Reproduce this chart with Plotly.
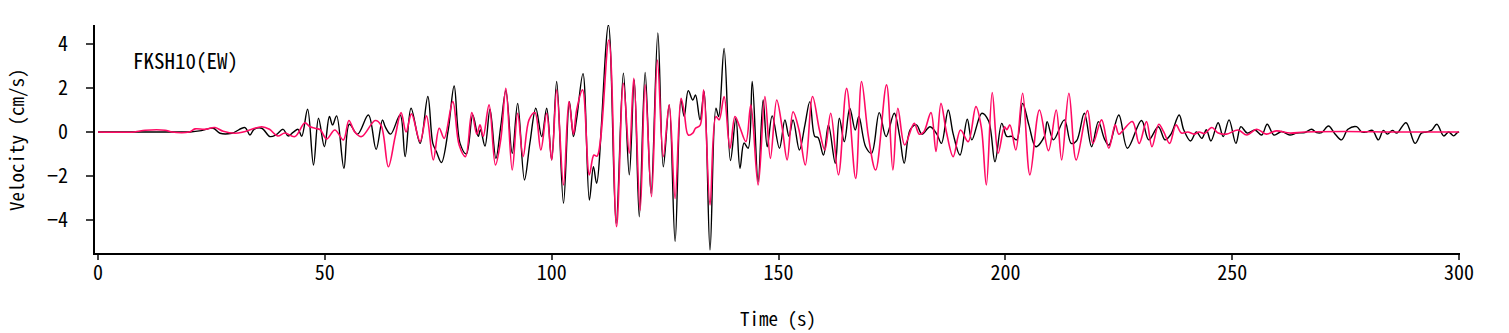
import plotly.graph_objects as go

# ---- data (time in s, velocity in cm/s) ----
black_t = [0, 10, 18, 20.3, 22.8, 25.4, 26.9, 29.5, 32.4, 33.5, 34.4, 36.1, 37.9, 39.3, 40.8, 41.9, 43.0,
           44.1, 44.9, 46.2, 47.5, 48.6, 49.9, 51.0, 51.7, 52.6, 54.2, 55.4, 57.2, 59.6, 61.3, 62.7, 63.3,
           64.5, 66.6, 67.7, 69.0, 71.0, 72.7, 73.8, 74.6, 75.7, 77.2, 78.5, 79.8, 81.2, 82.6, 83.8, 84.3,
           85.3, 86.4, 87.7, 88.8, 89.9, 91.3, 92.5, 94.0, 95.2, 96.5, 97.8, 98.9, 100.0, 101.1, 102.6,
           103.9, 104.8, 105.5, 106.9, 108.3, 109.2, 109.9, 112.5, 114.2, 115.8, 117.1, 118.2, 119.3, 120.6,
           121.9, 123.4, 124.6, 125.9, 127.2, 128.5, 129.2, 130.1, 131.1, 131.7, 132.7, 133.6, 134.9, 136.2,
           136.8, 138.0, 139.4, 140.6, 141.5, 142.4, 143.3, 144.2, 145.5, 146.6, 147.5, 148.6, 150.2, 151.4,
           152.3, 153.2, 154.6, 155.8, 156.9, 158.0, 158.7, 159.9, 161.0, 162.5, 163.4, 164.5, 165.7, 166.9,
           167.7, 169.2, 170.5, 172.2, 173.7, 175.5, 176.7, 177.7, 179.0, 180.4, 181.6, 183.4, 184.9, 185.9,
           187.4, 188.5, 190.0, 191.6, 192.6, 194.8, 196.3, 197.7, 199.2, 200.3, 201.4, 202.5, 203.8, 205.2,
           206.7, 208.6, 209.2, 210.6, 213.0, 214.5, 215.7, 217.4, 219.0, 220.5, 221.8, 222.8, 225.0, 226.9,
           230.0, 231.6, 233.7, 235.2, 236.5, 238.3, 239.3, 240.8, 242.1, 243.3, 244.3, 245.3, 246.9, 248.0,
           249.3, 250.8, 251.9, 253.3, 255.0, 256.5, 257.7, 259.2, 260.9, 262.7, 264.2, 266.0, 267.5, 268.6,
           269.7, 271.2, 272.7, 274.1, 275.5, 277.4, 278.5, 279.6, 280.9, 282.2, 283.3, 284.2, 285.3, 286.3,
           288.3, 290.3, 291.7, 292.8, 293.9, 295.1, 296.6, 297.7, 298.8, 299.6, 300]
black_v = [0, 0, 0, 0, 0.06, 0.17, -0.06, -0.06, 0.2, -0.14, 0.12, 0.17, -0.21, -0.12, 0.12, -0.18, -0.02,
           0.12, -0.2, 1.03, -1.5, 0.62, -0.67, 0.7, 0.32, 0.73, -1.65, 0.35, -0.1, 0.77, -0.79, 0.55, 0.24,
           -0.1, 0.77, -1.12, 1.08, -0.52, 1.61, -0.52, -0.9, -1.39, 0.09, 2.09, -0.52, -1.0, 0.77, -0.2, 0.1,
           -0.64, 1.03, -1.2, 0.3, 1.88, -0.97, 1.3, -2.18, -0.5, 1.08, -0.21, 1.08, -1.27, 2.29, -3.24,
           1.38, -0.21, 0.6, 2.65, -3.09, -1.58, -2.33, 4.86, -4.15, 2.67, -1.95, 2.36, -3.85, 2.7,
           -2.79, 4.5, -1.58, 1.23, -4.98, 1.45, 0.7, 1.88, 1.45, 1.68, 0.55, 1.83, -5.36, 1.08,
           0.7, 3.8, -1.3, 0.62, -1.65, -0.5, -0.74, 2.29, -2.26, 1.45, -0.67, 0.73, -0.74, 0.55,
           -0.2, 0.55, -0.82, 0.3, 1.38, -0.21, -0.25, -1.05, 0.32, -1.42, 0.62, -0.44, 1.08, 0.09,
           0.7, -0.67, -0.97, 0.88, -0.21, 0.85, -0.2, -1.42, 0.1, 0.32, -0.1, 0.24, -0.1, -0.52,
           1.0, -0.1, -1.05, 0.58, -0.36, 0.85, 0.5, -1.35, 0.39, -0.2, -0.2, -0.36, 1.3, 0.3,
           -0.67, -0.2, 0.47, -0.36, 0.55, -0.52, -0.4, 0.85, -0.67, 0.47, -0.3, -0.6, 0.77, -0.74,
           0.52, -0.36, 0.24, -0.36, -0.1, 0.77, 0.1, -0.41, 0, -0.29, 0.1, -0.41, 0.42, -0.21,
           0.55, -0.52, 0.24, -0.05, 0.09, -0.14, 0.35, -0.14, 0.02, -0.14, -0.05, -0.03, 0.12, -0.03,
           -0.03, 0.27, -0.1, -0.36, 0.12, 0.24, 0, 0, 0.07, -0.36, 0.07, -0.1, 0.07, -0.05,
           0.42, -0.52, -0.05, 0, 0.07, 0.35, -0.18, 0, -0.18, -0.03, 0]

red_t = [0, 8, 10.4, 14.8, 16.2, 20.1, 21.4, 23.5, 25.8, 27.6, 30.2, 32.0, 33.9, 36.1, 37.8, 39.6, 41.2,
         43.4, 45.6, 46.6, 47.8, 49.0, 50.4, 52.2, 54.1, 55.3, 56.6, 58.1, 61.1, 62.4, 64.0, 65.5, 66.8,
         67.9, 69.1, 71.0, 72.4, 73.9, 75.2, 76.3, 78.2, 79.6, 81.0, 82.4, 83.5, 84.2, 84.9, 86.2, 87.6,
         88.8, 89.9, 91.3, 92.5, 93.7, 95.0, 96.3, 97.6, 98.9, 100.0, 101.1, 102.6, 103.8, 104.8, 105.5,
         106.8, 108.3, 109.3, 110.0, 112.6, 114.3, 115.8, 117.1, 118.1, 119.5, 120.6, 122.0, 123.3, 124.6,
         125.9, 127.2, 128.5, 129.2, 130.1, 131.1, 131.7, 132.7, 133.5, 134.9, 136.2, 136.9, 138.0, 139.3,
         140.4, 141.4, 142.8, 143.9, 145.5, 147.0, 148.2, 149.6, 150.8, 151.9, 153.2, 154.5, 155.9, 157.5,
         159.0, 160.2, 161.5, 163.2, 165.0, 167.0, 168.3, 169.8, 171.4, 173.8, 175.2, 176.3, 177.8, 179.9,
         181.0, 182.0, 183.6, 184.7, 185.8, 187.0, 188.5, 190.1, 191.8, 193.5, 194.7, 195.8, 197.1, 198.4,
         199.8, 200.3, 201.0, 202.3, 203.8, 205.4, 207.5, 209.5, 211.2, 212.4, 214.0, 215.6, 218.1, 219.3,
         221.2, 222.8, 224.2, 225.0, 226.0, 228.0, 229.5, 231.1, 232.3, 233.8, 234.9, 236.2, 237.6, 238.8,
         240.2, 241.6, 242.7, 243.9, 245.5, 246.9, 248.7, 251.3, 253.2, 255.4, 257.5, 259.7, 262.7, 266.0,
         275, 285, 292, 300]
red_v = [0, 0, 0.08, 0.08, 0, 0, 0.14, 0.12, 0.2, 0.03, -0.06, 0.0, 0.12, 0.24, 0.12, -0.18, -0.05,
         -0.21, 0.42, 0.25, 0.17, 0.1, -0.32, 0.09, -0.36, 0.52, 0, -0.21, 0.52, 0.3, -1.58, -0.21, 0.88,
         0, 0.82, -0.44, 0.73, -1.27, 0.17, -0.29, 1.38, -0.59, -1.12, 0.88, -0.1, 0.32, -0.2, 1.23, -1.5,
         -0.3, 1.98, -1.73, 0.85, -1.12, 0.55, 0.88, -0.82, 0.85, -1.27, 1.91, -2.41, 1.38, -0.1, 1.0,
         1.91, -1.95, -1.05, -1.1, 4.18, -4.3, 2.21, -0.97, 2.44, -3.55, 2.14, -2.94, 3.27, -1.12,
         1.23, -3.02, 1.53, 0.9, -0.14, -0.05, 0.17, 0.3, 1.91, -3.32, 0.7, 0.55, 1.61, -0.75,
         0.7, 0.25, -0.44, 1.23, -2.41, 1.61, -1.2, 1.45, 0.2, -1.27, 0.92, 0.1, -1.5, 1.61,
         0.1, -0.82, 0.85, -1.95, 1.98, -2.11, 2.29, -0.2, -1.73, 2.14, -1.73, 1.08, -0.59, 0.39,
         -0.1, 0.0, 0.88, -0.89, 1.3, 0.0, -1.12, 0.09, -0.44, 1.15, 0.2, -2.41, 1.79, -0.97,
         0.24, 0.1, 0.32, -0.82, 1.76, -1.95, 1.0, -0.85, 1.0, -1.27, 1.76, -1.27, 0.97, -0.52,
         0.55, -0.74, 0.32, -0.1, 0.09, 0.47, -0.52, 0.47, -0.67, 0.35, 0.0, -0.52, 0.32, -0.05,
         0.0, -0.1, 0.0, -0.07, 0.2, -0.05, -0.1, 0.09, -0.14, 0.12, -0.1, 0.05, -0.05, 0.0,
         0.02, 0.0, 0.0, 0]

x_ticks = [0, 50, 100, 150, 200, 250, 300]
y_ticks = [-4, -2, 0, 2, 4]
station_label = "FKSH10(EW)"
x_title = "Time (s)"
y_title = "Velocity (cm/s)"

FONT = "Noto Sans Mono CJK JP, Noto Sans CJK JP, sans-serif"

fig = go.Figure()
fig.add_trace(go.Scatter(x=black_t, y=black_v, mode="lines",
                         line=dict(color="#000000", width=1.4, shape="spline", smoothing=1.0),
                         showlegend=False, hoverinfo="skip"))
fig.add_trace(go.Scatter(x=red_t, y=red_v, mode="lines",
                         line=dict(color="#ff0a64", width=1.6, shape="spline", smoothing=1.0),
                         showlegend=False, hoverinfo="skip"))

# station label (top-left inside plot)
fig.add_annotation(x=0, y=1, xref="paper", yref="paper", text=station_label, showarrow=False,
                   xanchor="left", yanchor="middle", xshift=36, yshift=-35,
                   font=dict(family=FONT, size=21, color="black"))
# axis titles
fig.add_annotation(x=0.5, y=-0.285, xref="paper", yref="paper", text=x_title, showarrow=False,
                   xanchor="center", yanchor="middle", font=dict(family=FONT, size=19, color="black"))
fig.add_annotation(x=-0.0586, y=0.4956, xref="paper", yref="paper", text=y_title, showarrow=False,
                   textangle=-90, xanchor="center", yanchor="middle",
                   font=dict(family=FONT, size=19, color="black"))

fig.update_layout(
    width=1509, height=333,
    margin=dict(l=95, r=49, t=25, b=80),
    paper_bgcolor="white", plot_bgcolor="white",
    font=dict(family=FONT, size=19, color="black"),
    xaxis=dict(range=[-0.66, 300.2], tickvals=x_ticks, ticks="outside", ticklen=5, tickwidth=1.5,
               showline=True, linecolor="black", linewidth=2, showgrid=False, zeroline=False,
               automargin=False, ticklabelstandoff=-4, tickfont=dict(size=20)),
    yaxis=dict(range=[-5.5, 4.86], tickvals=y_ticks, ticks="outside", ticklen=7, tickwidth=1.5,
               showline=True, linecolor="black", linewidth=2, showgrid=False, zeroline=False,
               automargin=False, ticklabelstandoff=14, tickfont=dict(size=20)),
)

fig.write_html("out.html", config={"displayModeBar": False},
               post_script="document.body.style.margin='0';document.body.style.overflow='hidden';")
